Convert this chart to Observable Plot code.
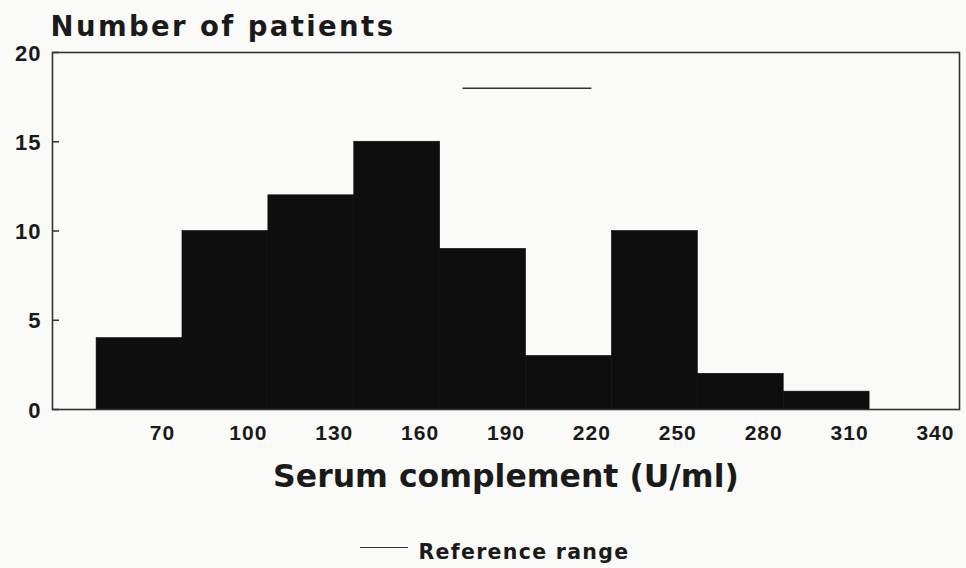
<!DOCTYPE html>
<html>
<head>
<meta charset="utf-8">
<script src="https://cdn.jsdelivr.net/npm/d3@7"></script>
<script src="https://cdn.jsdelivr.net/npm/@observablehq/plot@0.6"></script>
<style>
  html, body { margin: 0; padding: 0; background: #fafaf8; }
  #wrap { position: relative; width: 966px; height: 568px; }
  #swatch { position: absolute; left: 360px; top: 547px; width: 48px; height: 0; border-top: 1.6px solid #333; }
</style>
</head>
<body>
<div id="wrap">
  <div id="chart"></div>
  <div id="swatch"></div>
</div>
<script>
// Histogram bin edges (U/ml) and patient counts
const binEdges = [47, 77, 107, 137, 167, 197, 227, 257, 287, 317];
const counts = [4, 10, 12, 15, 9, 3, 10, 2, 1];
const xTicks = [70, 100, 130, 160, 190, 220, 250, 280, 310, 340];
const yTicks = [0, 5, 10, 15, 20];
const refRange = [175, 220];
const refLevel = 18;

const bins = counts.map((c, i) => ({x1: binEdges[i], x2: binEdges[i + 1], n: c}));
const ref = [{x1: refRange[0], x2: refRange[1], y: refLevel}];

const tickFont = "'Liberation Sans', Arial, sans-serif";
const titleFont = "'DejaVu Sans', sans-serif";

const chart = Plot.plot({
  width: 966,
  height: 568,
  marginLeft: 52,
  marginRight: 7,
  marginTop: 52,
  marginBottom: 159,
  style: {fontFamily: tickFont, background: "transparent", color: "#1a1a1a"},
  x: {domain: [31.6, 348.4]},
  y: {domain: [0, 20]},
  marks: [
    Plot.rectY(bins, {x1: "x1", x2: "x2", y: "n", fill: "#0e0e0e", stroke: "#0e0e0e", strokeWidth: 0.6}),
    Plot.ruleY(ref, {x1: "x1", x2: "x2", y: "y", stroke: "#333", strokeWidth: 1.6}),
    Plot.frame({stroke: "#333", strokeWidth: 1.6}),
    Plot.axisY(yTicks, {anchor: "left", tickSize: 7, dx: 7, tickFormat: () => "", stroke: "#333", strokeWidth: 1.5, label: null}),
    Plot.axisY(yTicks, {anchor: "left", tickSize: 0, tickPadding: 11, dy: 1, fontSize: 22, fontWeight: "bold", label: null}),
    Plot.axisX(xTicks, {anchor: "bottom", tickSize: 0, tickPadding: 16, fontSize: 21, fontWeight: "bold", label: null}),
    Plot.text(["Number of patients"], {frameAnchor: "top-left", text: d => d, textAnchor: "start", lineAnchor: "bottom",
      dx: -2, dy: -17, fontSize: 27.5, fontWeight: "bold", fontFamily: titleFont}),
    Plot.text(["Serum complement (U/ml)"], {frameAnchor: "bottom", text: d => d, textAnchor: "middle", lineAnchor: "bottom",
      dx: 0, dy: 77, fontSize: 31.5, fontWeight: "bold", fontFamily: titleFont}),
    Plot.text(["Reference range"], {frameAnchor: "bottom-left", text: d => d, textAnchor: "start", lineAnchor: "bottom",
      dx: 366, dy: 149, fontSize: 20.5, fontWeight: "bold", fontFamily: titleFont})
  ]
});
// letter spacing for the wide, spaced lettering of the original
chart.querySelectorAll("text").forEach(t => {
  const s = t.textContent;
  if (s === "Number of patients") t.setAttribute("letter-spacing", "2.4");
  else if (s === "Reference range") t.setAttribute("letter-spacing", "1.3");
  else if (/^\d+$/.test(s)) t.setAttribute("letter-spacing", "1");
});
document.getElementById("chart").appendChild(chart);
</script>
</body>
</html>
